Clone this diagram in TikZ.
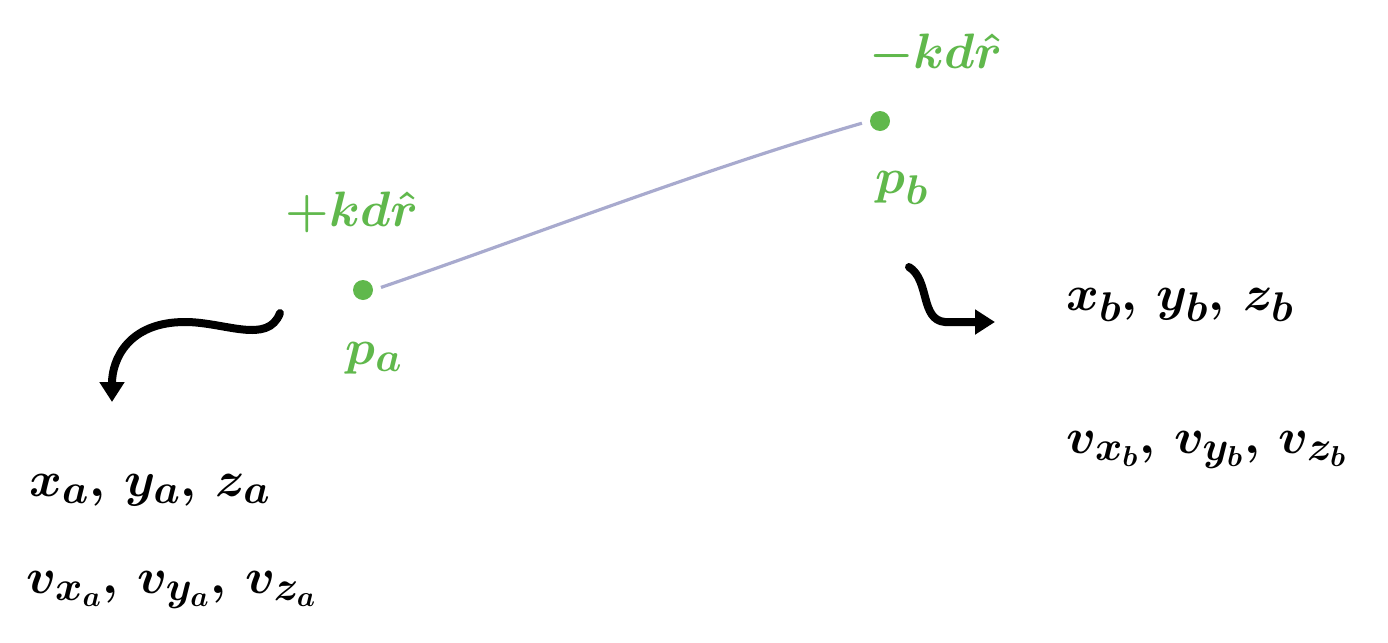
\documentclass[tikz,border=0pt]{standalone}
\usepackage{amsmath}
\usetikzlibrary{arrows.meta}
\definecolor{hgreen}{RGB}{96,184,76}
\definecolor{hline}{RGB}{168,170,206}
\begin{document}
\begin{tikzpicture}[x=0.5pt,y=-0.5pt,
  greentxt/.style={text=hgreen,font=\fontsize{26}{30}\selectfont\boldmath,inner sep=0pt},
  plabel/.style={text=hgreen,font=\fontsize{32}{36}\selectfont\boldmath,inner sep=0pt},
  blacktxt/.style={text=black,font=\fontsize{30}{34}\selectfont\boldmath,inner sep=0pt},
  pt/.style={circle,fill=hgreen,inner sep=0pt,minimum size=10pt},
  hand/.style={line width=4pt,line cap=round,-{Triangle[length=10pt,width=12pt]}}]
\useasboundingbox (0,0) rectangle (1388,643);
\node[pt] (pa) at (363,290) {};
\node[pt] (pb) at (880,121) {};
\draw[hline,line width=1.6pt,shorten <=4pt,shorten >=4pt] (pa.east) .. controls (520,240) and (700,170) .. (pb.west);
\node[greentxt] (ka) at (352,212) {$+kd\hat{r}$};
\node[greentxt] (kb) at (936,55) {$-kd\hat{r}$};
\node[plabel] (la) at (374,358) {$p_a$};
\node[plabel] (lb) at (902,188) {$p_b$};
\node[blacktxt] (xa) at (150,490) {$x_a,\,y_a,\,z_a$};
\node[blacktxt] (va) at (172,590) {$v_{x_a},\,v_{y_a},\,v_{z_a}$};
\node[blacktxt] (xb) at (1180,305) {$x_b,\,y_b,\,z_b$};
\node[blacktxt] (vb) at (1207,450) {$v_{x_b},\,v_{y_b},\,v_{z_b}$};
\coordinate (a0) at (280,313);
\coordinate (a1) at (112,402);
\coordinate (b0) at (909,267);
\coordinate (b1) at (995,322);
\draw[hand] (a0) .. controls (268,345) and (225,322) .. (185,322) .. controls (128,322) and (112,360) .. (a1);
\draw[hand] (b0) .. controls (930,280) and (920,320) .. (945,322) -- (b1);
\end{tikzpicture}
\end{document}
